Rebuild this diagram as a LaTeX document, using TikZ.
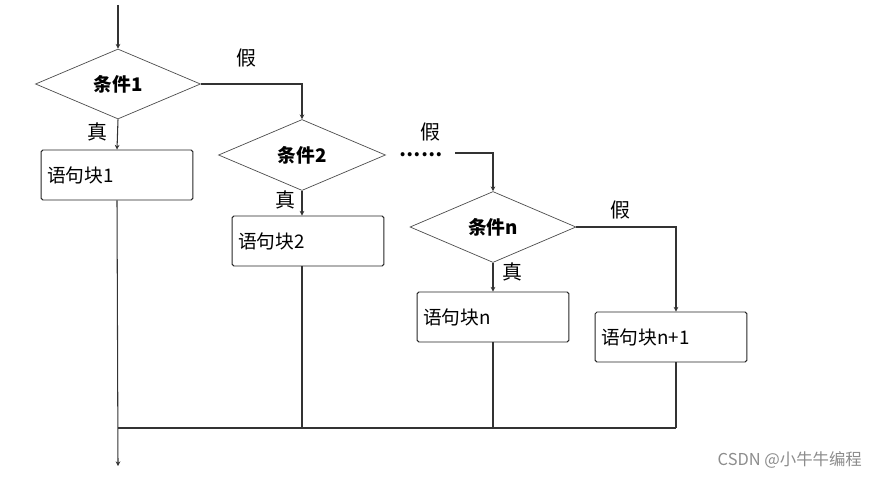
\documentclass[tikz,border=0pt]{standalone}
\usepackage{fontspec}
\setmainfont{Noto Sans CJK SC}
\usetikzlibrary{shapes.geometric,arrows.meta}
\begin{document}
\begin{tikzpicture}[x=0.03cm,y=-0.03cm,
  blk/.style={draw=black!85,line width=0.8pt,rounded corners=1.5pt,minimum height=50*0.03cm,text width=140*0.03cm,align=left,inner xsep=5pt,font=\fontsize{16}{19}\selectfont},
  dia/.style={diamond,draw=black!70,line width=0.6pt,inner sep=0pt,font=\fontsize{16}{19}\selectfont\bfseries},
  ln/.style={draw=black!80,line width=0.9pt},
  ar/.style={ln,-{Stealth[length=4pt,width=4pt]}},
  lab/.style={font=\fontsize{17}{20}\selectfont}]
\useasboundingbox (0,0) rectangle (881,478);
\node[dia,minimum width=165*0.03cm,minimum height=70*0.03cm] (d1) at (118,84) {条件1};
\node[dia,minimum width=167*0.03cm,minimum height=71*0.03cm] (d2) at (302,155) {条件2};
\node[dia,minimum width=166*0.03cm,minimum height=71*0.03cm] (d3) at (493,227) {条件n};
\node[blk] (b1) at (117,175) {语句块1};
\node[blk] (b2) at (308,241) {语句块2};
\node[blk] (b3) at (493,317) {语句块n};
\node[blk] (b4) at (671,337) {语句块n+1};
\coordinate (top) at (118,5);
\coordinate (dotend) at (455,153);
\coordinate (j1) at (118,428);
\coordinate (j4) at (676,428);
\coordinate (out) at (118,466);
\node[lab] at (246,58) {假};
\node[lab] at (97,132) {真};
\node[lab] at (285,200) {真};
\node[lab] at (430,132) {假};
\node[font=\fontsize{16}{19}\selectfont\bfseries] at (421,155) {……};
\node[lab] at (620,210) {假};
\node[lab] at (512,272) {真};
\draw[ar] (top) -- (d1.north);
\draw[ar] (d1.south) -- (b1.north);
\draw[ar] (d1.east) -| (d2.north);
\draw[ar] (d2.south) -- (b2.north -| d2.south);
\draw[ar] (dotend) -| (d3.north);
\draw[ar] (d3.south) -- (b3.north -| d3.south);
\draw[ar] (d3.east) -| (b4.north -| j4);
\draw[ln] (j1) -- (j4);
\draw[ar] (b1.south) -- (out);
\draw[ln] (b2.south -| d2.south) -- (j1 -| d2.south);
\draw[ln] (b3.south -| d3.south) -- (j1 -| d3.south);
\draw[ln] (b4.south -| j4) -- (j4);
\node[text=black!45,font=\fontsize{14}{17}\selectfont,anchor=east] at (866,460) {CSDN @小牛牛编程};
\end{tikzpicture}
\end{document}
